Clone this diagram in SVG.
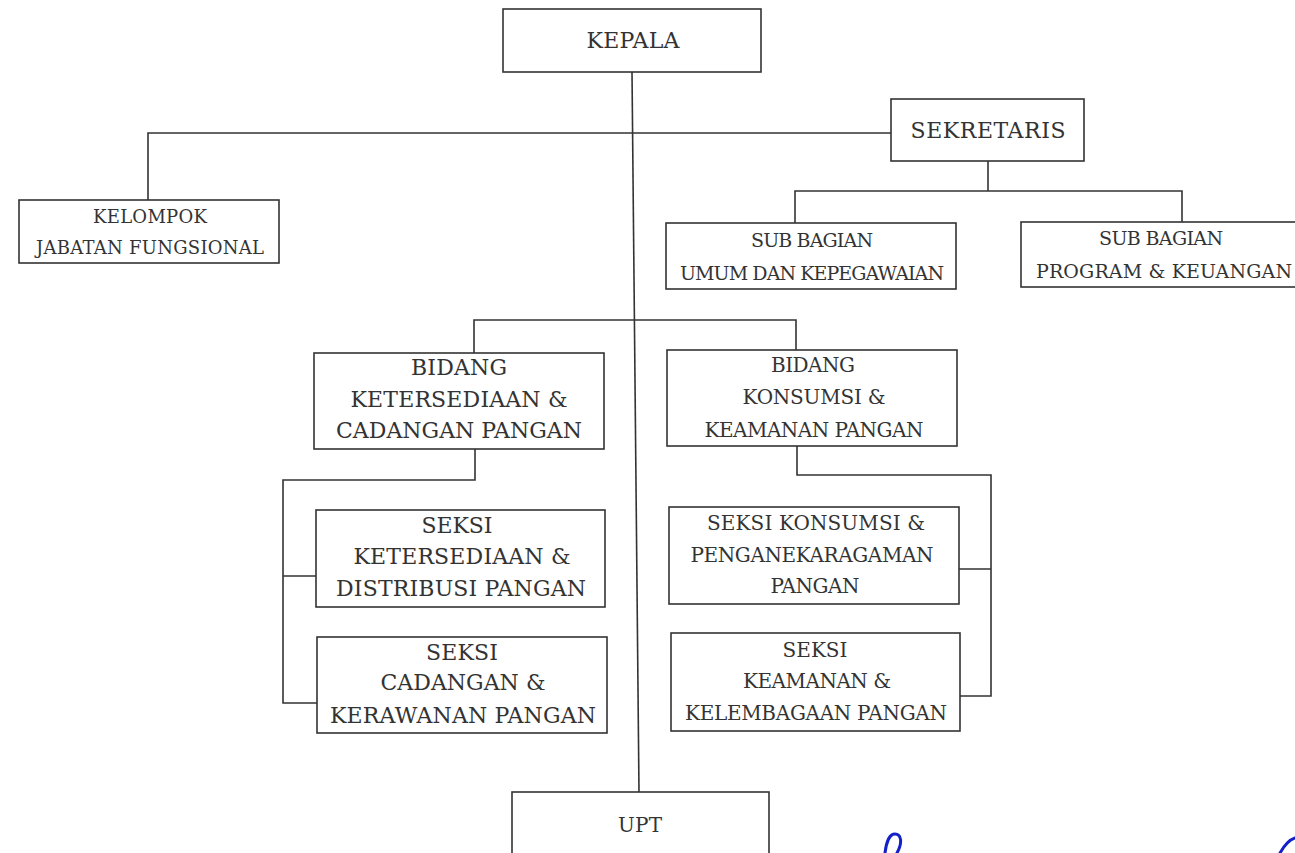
<svg xmlns="http://www.w3.org/2000/svg" width="1295" height="853" viewBox="0 0 1295 853">
<style>
.box{fill:#fff;stroke:#333;stroke-width:1.6}
.ln{fill:none;stroke:#333;stroke-width:1.6}
text{font-family:"DejaVu Serif","Liberation Serif",serif;fill:#333;text-anchor:middle}
.f22{font-size:22px}.f20{font-size:20px}.f19{font-size:19px}.f18{font-size:18px}
.ink{fill:none;stroke:#1420c8;stroke-width:3;stroke-linecap:round}
</style>
<rect width="1295" height="853" fill="#fff"/>
<g id="connectors">
<path class="ln" d="M632,72 L639,792"/>
<path class="ln" d="M148,200 V133 H891"/>
<path class="ln" d="M988,161 V191"/>
<path class="ln" d="M795,223 V191 H1182 V222"/>
<path class="ln" d="M474,353 V320 H796 V350"/>
<path class="ln" d="M475,449 V480 H283 V703 H317 M283,576 H316"/>
<path class="ln" d="M797,446 V475 H991 V696 H960 M959,569 H991"/>
</g>
<g id="kepala">
<rect class="box" x="503" y="9" width="258" height="63"/>
<text class="f22" x="633" y="48" textLength="93" lengthAdjust="spacing">KEPALA</text>
</g>
<g id="sekretaris">
<rect class="box" x="891" y="99" width="193" height="62"/>
<text class="f22" x="988" y="138" textLength="155" lengthAdjust="spacing">SEKRETARIS</text>
</g>
<g id="kelompok">
<rect class="box" x="19" y="200" width="260" height="63"/>
<text class="f18" x="150" y="223" textLength="114" lengthAdjust="spacing">KELOMPOK</text>
<text class="f18" x="150" y="254" textLength="228" lengthAdjust="spacing">JABATAN FUNGSIONAL</text>
</g>
<g id="subbag-umum">
<rect class="box" x="666" y="223" width="290" height="66"/>
<text class="f19" x="812" y="247" textLength="122" lengthAdjust="spacing">SUB BAGIAN</text>
<text class="f19" x="812" y="280" textLength="264" lengthAdjust="spacing">UMUM DAN KEPEGAWAIAN</text>
</g>
<g id="subbag-program">
<rect class="box" x="1021" y="222" width="300" height="65"/>
<text class="f19" x="1161" y="245" textLength="124" lengthAdjust="spacing">SUB BAGIAN</text>
<text class="f19" x="1036" y="278" textLength="256" lengthAdjust="spacing" style="text-anchor:start">PROGRAM &amp; KEUANGAN</text>
</g>
<g id="bidang-ketersediaan">
<rect class="box" x="314" y="353" width="290" height="96"/>
<text class="f22" x="459" y="375" textLength="96" lengthAdjust="spacing">BIDANG</text>
<text class="f22" x="459" y="407" textLength="217" lengthAdjust="spacing">KETERSEDIAAN &amp;</text>
<text class="f22" x="459" y="438" textLength="246" lengthAdjust="spacing">CADANGAN PANGAN</text>
</g>
<g id="bidang-konsumsi">
<rect class="box" x="667" y="350" width="290" height="96"/>
<text class="f20" x="813" y="372" textLength="84" lengthAdjust="spacing">BIDANG</text>
<text class="f20" x="814" y="404" textLength="143" lengthAdjust="spacing">KONSUMSI &amp;</text>
<text class="f20" x="814" y="437" textLength="219" lengthAdjust="spacing">KEAMANAN PANGAN</text>
</g>
<g id="seksi-ketersediaan">
<rect class="box" x="316" y="510" width="289" height="97"/>
<text class="f22" x="457" y="533" textLength="71" lengthAdjust="spacing">SEKSI</text>
<text class="f22" x="462" y="564" textLength="217" lengthAdjust="spacing">KETERSEDIAAN &amp;</text>
<text class="f22" x="461" y="596" textLength="250" lengthAdjust="spacing">DISTRIBUSI PANGAN</text>
</g>
<g id="seksi-cadangan">
<rect class="box" x="317" y="637" width="290" height="96"/>
<text class="f22" x="462" y="660" textLength="72" lengthAdjust="spacing">SEKSI</text>
<text class="f22" x="463" y="690" textLength="165" lengthAdjust="spacing">CADANGAN &amp;</text>
<text class="f22" x="463" y="723" textLength="266" lengthAdjust="spacing">KERAWANAN PANGAN</text>
</g>
<g id="seksi-konsumsi">
<rect class="box" x="669" y="507" width="290" height="97"/>
<text class="f20" x="816" y="530" textLength="218" lengthAdjust="spacing">SEKSI KONSUMSI &amp;</text>
<text class="f20" x="812" y="562" textLength="243" lengthAdjust="spacing">PENGANEKARAGAMAN</text>
<text class="f20" x="815" y="593" textLength="89" lengthAdjust="spacing">PANGAN</text>
</g>
<g id="seksi-keamanan">
<rect class="box" x="671" y="633" width="289" height="98"/>
<text class="f20" x="815" y="657" textLength="65" lengthAdjust="spacing">SEKSI</text>
<text class="f20" x="817" y="688" textLength="148" lengthAdjust="spacing">KEAMANAN &amp;</text>
<text class="f20" x="816" y="720" textLength="262" lengthAdjust="spacing">KELEMBAGAAN PANGAN</text>
</g>
<g id="upt">
<rect class="box" x="512" y="792" width="257" height="80"/>
<text class="f20" x="640" y="832" textLength="44" lengthAdjust="spacing">UPT</text>
</g>
<g id="handwriting">
<path class="ink" d="M885,853 C886,844 889,834 895,834 C901,834 903,842 897,853"/>
<path class="ink" d="M1280,853 C1284,846 1289,840 1295,838"/>
</g>
</svg>
